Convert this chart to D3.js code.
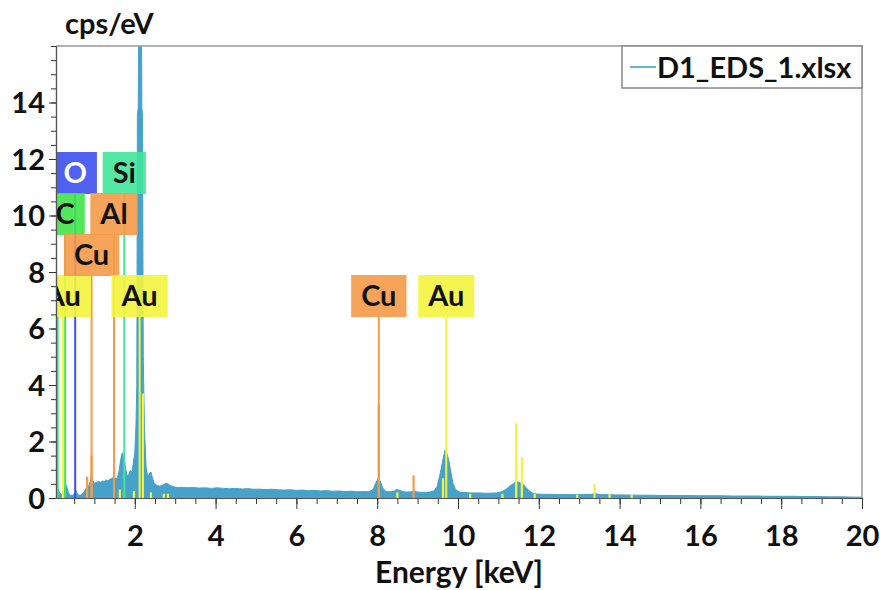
<!DOCTYPE html>
<html>
<head>
<meta charset="utf-8">
<script src="https://cdn.jsdelivr.net/npm/d3@7"></script>
<style>
body { margin: 0; background: #fff; }
text { font-family: Lato, "Open Sans", sans-serif; font-weight: bold; }
</style>
</head>
<body>
<svg id="chart" width="880" height="590"></svg>
<script>
"use strict";

// spectrum: [energy keV, cps/eV]
var spectrum = [
    [0.05, 0.12], [0.07, 0.35], [0.09, 0.42], [0.11, 0.3], [0.14, 0.18], [0.18, 0.12], [0.22, 0.16],
    [0.26, 0.32], [0.29, 0.5], [0.32, 0.38], [0.36, 0.18], [0.4, 0.1], [0.45, 0.09], [0.5, 0.14],
    [0.53, 0.3], [0.56, 0.2], [0.6, 0.11], [0.65, 0.1], [0.7, 0.14], [0.75, 0.22], [0.79, 0.32],
    [0.82, 0.45], [0.86, 0.42], [0.9, 0.6], [0.93, 0.85], [0.96, 0.62], [1.0, 0.52], [1.05, 0.55],
    [1.1, 0.58], [1.15, 0.56], [1.2, 0.6], [1.25, 0.59], [1.3, 0.63], [1.35, 0.62], [1.4, 0.68],
    [1.45, 0.7], [1.49, 0.78], [1.53, 0.66], [1.57, 0.72], [1.61, 0.95], [1.65, 1.35], [1.69, 1.6],
    [1.73, 1.5], [1.77, 1.05], [1.81, 0.78], [1.85, 0.82], [1.89, 0.98], [1.93, 0.9], [1.97, 1.3],
    [2.0, 1.6], [2.03, 2.6], [2.05, 4], [2.065, 13.6], [2.085, 13.8], [2.095, 17], [2.165, 17],
    [2.175, 13.8], [2.19, 13.6], [2.21, 5], [2.24, 2.4], [2.28, 1.1], [2.32, 0.75], [2.36, 0.85],
    [2.4, 0.92], [2.44, 0.7],
    [2.48, 0.52], [2.55, 0.44], [2.62, 0.42], [2.7, 0.46], [2.76, 0.52], [2.82, 0.5], [2.88, 0.44],
    [2.95, 0.4], [3.05, 0.37], [3.15, 0.38], [3.3, 0.36], [3.45, 0.37], [3.6, 0.35], [3.75, 0.36],
    [3.9, 0.34], [4.05, 0.36], [4.2, 0.34], [4.35, 0.33], [4.5, 0.34], [4.65, 0.32], [4.8, 0.33],
    [4.95, 0.31], [5.1, 0.31], [5.25, 0.3], [5.4, 0.31], [5.55, 0.29], [5.7, 0.28], [5.85, 0.29],
    [6.0, 0.27], [6.15, 0.28], [6.3, 0.26], [6.45, 0.27], [6.6, 0.25], [6.75, 0.26], [6.9, 0.24],
    [7.05, 0.25], [7.2, 0.23], [7.35, 0.24], [7.5, 0.22], [7.65, 0.23], [7.8, 0.22], [7.9, 0.3],
    [7.96, 0.52], [8.02, 0.68], [8.07, 0.62], [8.13, 0.38], [8.2, 0.24], [8.3, 0.22], [8.4, 0.23],
    [8.48, 0.3], [8.56, 0.27], [8.65, 0.22], [8.75, 0.21], [8.85, 0.22], [8.92, 0.26], [9.0, 0.21],
    [9.1, 0.2], [9.2, 0.2], [9.3, 0.21], [9.4, 0.25], [9.48, 0.4], [9.55, 0.8], [9.62, 1.3],
    [9.68, 1.7], [9.72, 1.6], [9.77, 1.35], [9.82, 0.95], [9.88, 0.5], [9.95, 0.28], [10.05, 0.2],
    [10.2, 0.19], [10.35, 0.18], [10.5, 0.18], [10.65, 0.17], [10.8, 0.17], [10.95, 0.18], [11.08, 0.22],
    [11.18, 0.3], [11.28, 0.42], [11.38, 0.52], [11.45, 0.58], [11.52, 0.55], [11.6, 0.5], [11.68, 0.38],
    [11.76, 0.26], [11.85, 0.17], [11.95, 0.14], [12.1, 0.13], [12.3, 0.13], [12.5, 0.12], [12.7, 0.12],
    [12.9, 0.12], [13.1, 0.12], [13.3, 0.13], [13.4, 0.16], [13.5, 0.12], [13.7, 0.12], [13.9, 0.11],
    [14.1, 0.11], [14.4, 0.1], [14.7, 0.1], [15.0, 0.09], [15.3, 0.09], [15.6, 0.09], [15.9, 0.08],
    [16.2, 0.08], [16.5, 0.08], [16.8, 0.07], [17.1, 0.07], [17.4, 0.07], [17.7, 0.06], [18.0, 0.06],
    [18.3, 0.06], [18.6, 0.05], [18.9, 0.05], [19.2, 0.04], [19.5, 0.04], [19.8, 0.03], [20.0, 0.03]
];

// short line markers: [energy, height, element]
var markers = [
    [0.09, 6.45, 'Si'], [0.82, 0.75, 'Cu'], [0.93, 1.5, 'Cu'], [1.63, 0.3, 'Au'], [1.98, 0.25, 'Au'],
    [2.2, 3.7, 'Au'], [2.4, 0.2, 'Au'], [2.72, 0.15, 'Au'], [2.82, 0.15, 'Au'], [8.04, 3.3, 'Cu'],
    [8.5, 0.2, 'Au'], [8.9, 0.8, 'Cu'], [9.63, 0.7, 'Au'], [10.3, 0.15, 'Au'], [11.1, 0.15, 'Au'],
    [11.44, 2.65, 'Au'], [11.58, 1.45, 'Au'], [11.9, 0.15, 'Au'], [12.95, 0.12, 'Au'], [13.38, 0.5, 'Au'],
    [13.75, 0.15, 'Au'], [14.3, 0.12, 'Au']
];

// element labels: names, line energies, label row
var labelNames = ['Au', 'O', 'Si', 'C', 'Al', 'Cu', 'Au', 'Cu', 'Au'];
var labelEnergy = [0.22, 0.525, 1.74, 0.277, 1.486, 0.93, 2.12, 8.04, 9.71];
var labelRow = [3, 0, 0, 1, 1, 2, 3, 3, 3];

var xTicks = [2, 4, 6, 8, 10, 12, 14, 16, 18, 20];
var yTicks = [0, 2, 4, 6, 8, 10, 12, 14];
var legendName = 'D1_EDS_1.xlsx';

var elementColor = {O: '#3d50f0', Si: '#40e69a', C: '#40e64a', Al: '#f59a48', Cu: '#f59a48', Au: '#f4f43e'};
var specColor = '#46a2c9';

var svg = d3.select('#chart');
var plotL = 56, plotR = 862, plotT = 46, plotB = 498;

var x = d3.scaleLinear().domain([0.05, 20]).range([plotL, plotR]);
var y = d3.scaleLinear().domain([0, 16]).range([plotB, plotT]);

svg.append('clipPath').attr('id', 'plotclip')
    .append('rect').attr('x', plotL).attr('y', plotT).attr('width', plotR - plotL).attr('height', plotB - plotT);

var plot = svg.append('g').attr('clip-path', 'url(#plotclip)');

var area = d3.area()
    .x(d => x(d[0]))
    .y0(y(0))
    .y1(d => y(d[1]));

plot.append('path')
    .datum(spectrum)
    .attr('d', area)
    .attr('fill', specColor)
    .attr('stroke', specColor)
    .attr('stroke-width', 1);

var rowTop = r => 152 + r * 41;
var boxH = 42;

// label lines down to the axis
plot.selectAll('line.lab').data(labelNames).enter().append('line')
    .attr('class', 'lab')
    .attr('x1', (d, i) => x(labelEnergy[i]))
    .attr('x2', (d, i) => x(labelEnergy[i]))
    .attr('y1', (d, i) => rowTop(labelRow[i]) + boxH)
    .attr('y2', y(0))
    .attr('stroke', d => elementColor[d])
    .attr('stroke-width', 2);

plot.selectAll('line.mk').data(markers).enter().append('line')
    .attr('class', 'mk')
    .attr('x1', d => x(d[0]))
    .attr('x2', d => x(d[0]))
    .attr('y1', d => y(d[1]))
    .attr('y2', y(0))
    .attr('stroke', d => elementColor[d[2]])
    .attr('stroke-width', 2.2);

// label boxes, sized to their text
var boxes = plot.selectAll('g.box').data(labelNames).enter().append('g')
    .attr('class', 'box')
    .attr('transform', (d, i) => 'translate(' + x(labelEnergy[i]) + ',' + rowTop(labelRow[i]) + ')');
boxes.append('text')
    .attr('text-anchor', 'middle')
    .attr('y', 31)
    .attr('font-size', 29)
    .attr('fill', d => d === 'O' ? '#fff' : '#111')
    .text(d => d);
boxes.each(function () {
    var g = d3.select(this);
    var w = g.select('text').node().getComputedTextLength() + 20;
    g.insert('rect', 'text')
        .attr('x', -w / 2)
        .attr('width', w)
        .attr('height', boxH)
        .attr('fill', elementColor[g.datum()])
        .attr('opacity', 0.9);
});

// frame
svg.append('path')
    .attr('d', 'M' + plotL + ',' + plotT + 'H' + plotR + 'V' + plotB)
    .attr('fill', 'none').attr('stroke', '#999').attr('stroke-width', 1.5);

// axes
var xMinor = svg.append('g').attr('transform', 'translate(0,' + plotB + ')')
    .call(d3.axisBottom(x).tickValues(d3.range(0.5, 20.01, 0.5)).tickSize(6).tickSizeOuter(0).tickFormat(''));
var xMajor = svg.append('g').attr('transform', 'translate(0,' + plotB + ')')
    .call(d3.axisBottom(x).tickValues(xTicks).tickSize(11).tickSizeOuter(0).tickPadding(16));
var yMinor = svg.append('g').attr('transform', 'translate(' + plotL + ',0)')
    .call(d3.axisLeft(y).tickValues(d3.range(0, 16.01, 0.5)).tickSize(5).tickSizeOuter(0).tickFormat(''));
var yMajor = svg.append('g').attr('transform', 'translate(' + plotL + ',0)')
    .call(d3.axisLeft(y).tickValues(yTicks).tickSize(7).tickSizeOuter(0).tickPadding(4));

[xMinor, xMajor, yMinor, yMajor].forEach(g => {
    g.selectAll('.tick line').attr('stroke', '#333');
    g.select('.domain').attr('stroke', '#555').attr('stroke-width', 1.2);
    g.selectAll('.tick text').attr('font-size', 29).attr('fill', '#111')
        .attr('font-family', 'Lato, sans-serif').attr('font-weight', 'bold');
});
yMajor.selectAll('.tick text').attr('dy', '0.36em');

svg.append('text').attr('x', 65).attr('y', 34).attr('font-size', 29).attr('fill', '#111').text('cps/eV');
svg.append('text').attr('x', (plotL + plotR) / 2).attr('y', 583).attr('text-anchor', 'middle')
    .attr('font-size', 30).attr('fill', '#111').text('Energy [keV]');

// legend
var lg = svg.append('g');
lg.append('rect').attr('x', 622).attr('y', plotT).attr('width', plotR - 622).attr('height', 42)
    .attr('fill', '#fff').attr('stroke', '#888').attr('stroke-width', 1.5);
lg.append('line').attr('x1', 630).attr('x2', 656).attr('y1', 67).attr('y2', 67)
    .attr('stroke', '#5bbad9').attr('stroke-width', 2);
lg.append('text').attr('x', 657).attr('y', 78).attr('font-size', 29).attr('fill', '#111').text(legendName);
</script>
</body>
</html>
